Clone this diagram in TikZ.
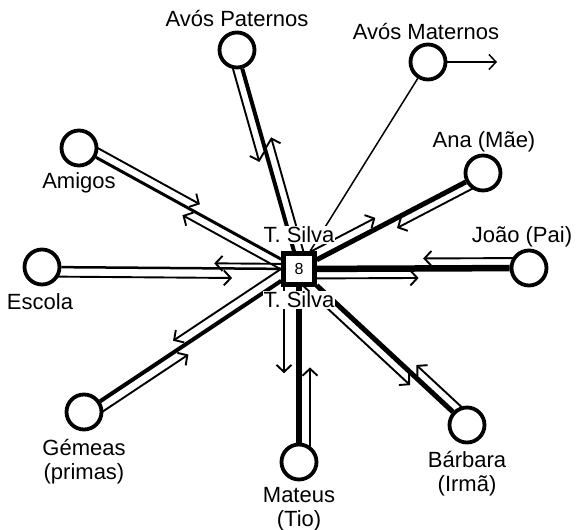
\documentclass[tikz,border=0pt]{standalone}
\usepackage{fontspec}
\setmainfont{Liberation Sans}
\usetikzlibrary{calc,arrows.meta,backgrounds}
% one flow arrow beside the tie from the centre to #1
% #2 start fraction, #3 end fraction, #4 side offset (pt), #5 side angle (90 / 270)
\newcommand\flowarrow[5]{%
  \draw[flow] ($(ts)!#2!(#1)!#4pt!#5:(#1)$) -- ($(ts)!#3!(#1)!#4pt!#5:(#1)$);}
\begin{document}
\begin{tikzpicture}[x=1pt,y=-1pt,
  member/.style={circle,draw,line width=3.8pt,minimum size=35pt,inner sep=0pt,fill=white},
  lbl/.style={font=\fontsize{22}{24}\selectfont,align=center,inner sep=0pt},
  flow/.style={line width=1.9pt,-{Straight Barb[length=7pt,width=15pt]}},
  focus/.style={draw,line width=4.5pt,fill=white,minimum size=31pt,inner sep=0pt,
    font=\fontsize{16}{16}\selectfont},
  tsname/.style={font=\fontsize{22}{24}\selectfont,fill=white,inner sep=1pt}]
\useasboundingbox (0,0) rectangle (576,530);

% focal person and the surrounding members
\node[focus] (ts) at (299,269) {8};
\node[member] (ap)  at (237,50)  {};
\node[member] (am)  at (428,62)  {};
\node[member] (ana) at (483,173) {};
\node[member] (jp)  at (529,268) {};
\node[member] (ba)  at (467,425) {};
\node[member] (mt)  at (299,462) {};
\node[member] (gm)  at (84,412)  {};
\node[member] (es)  at (42,267)  {};
\node[member] (amg) at (79,148)  {};
\coordinate (amx) at (497,62);

% ties and flows, kept behind the circles and the square
\begin{scope}[on background layer]
  \draw[line width=4pt]   (ts) -- (ap);
  \draw[line width=1.5pt] (ts) -- (am);
  \draw[line width=5pt]   (ts) -- (ana);
  \draw[line width=6.5pt] (ts) -- (jp);
  \draw[line width=5pt]   (ts) -- (ba);
  \draw[line width=6pt]   (ts) -- (mt);
  \draw[line width=4pt]   (ts) -- (gm);
  \draw[line width=2.5pt] (ts) -- (es);
  \draw[line width=3pt]   (ts) -- (amg);

  \flowarrow{ap}{0.05}{0.59}{9}{270}
  \flowarrow{ap}{0.95}{0.50}{9}{90}
  \flowarrow{amg}{0.05}{0.51}{9}{90}
  \flowarrow{amg}{0.95}{0.47}{9}{270}
  \flowarrow{es}{0.05}{0.33}{5}{270}
  \flowarrow{es}{0.95}{0.26}{9.5}{90}
  \flowarrow{gm}{0.05}{0.56}{10}{270}
  \flowarrow{gm}{0.95}{0.54}{10}{90}
  \flowarrow{mt}{0.05}{0.54}{15}{270}
  \flowarrow{mt}{0.95}{0.51}{11}{90}
  \flowarrow{ba}{0.05}{0.70}{9.5}{270}
  \flowarrow{ba}{0.95}{0.66}{9.5}{90}
  \flowarrow{jp}{0.05}{0.52}{9.5}{270}
  \flowarrow{jp}{0.95}{0.54}{10}{90}
  \flowarrow{ana}{0.05}{0.44}{10}{90}
  \flowarrow{ana}{0.95}{0.51}{9}{270}
  \draw[flow,line width=1.5pt] (am) -- (amx);
\end{scope}

% names
\node[tsname] (tsa) at (299,235) {T. Silva};
\node[tsname] (tsb) at (299,300) {T. Silva};
\node[lbl] (lap)  at (237,19)  {Avós Paternos};
\node[lbl] (lam)  at (426,32)  {Avós Maternos};
\node[lbl] (lana) at (484,142) {Ana (Mãe)};
\node[lbl] (ljp)  at (522,237) {João (Pai)};
\node[lbl] (les)  at (40,302)  {Escola};
\node[lbl] (lamg) at (79,183)  {Amigos};
\node[lbl] (lgm)  at (84,462)  {Gémeas\\(primas)};
\node[lbl] (lmt)  at (299,509) {Mateus\\(Tio)};
\node[lbl] (lba)  at (467,474) {Bárbara\\(Irmã)};
\end{tikzpicture}
\end{document}
